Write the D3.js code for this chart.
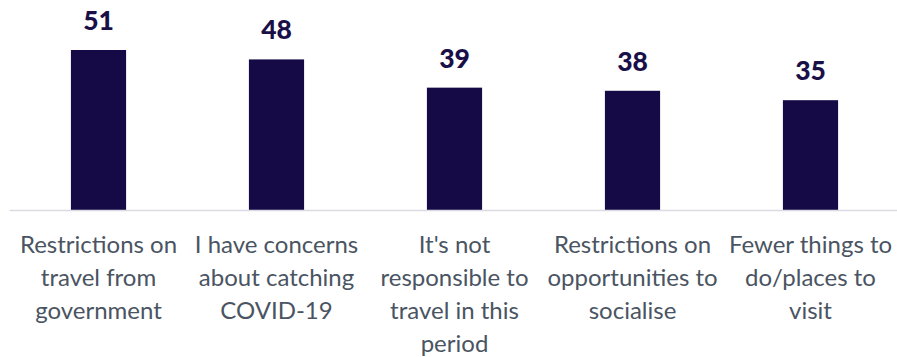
<!DOCTYPE html>
<html>
<head>
<meta charset="utf-8">
<script src="https://cdn.jsdelivr.net/npm/d3@7"></script>
<style>
  html, body { margin: 0; padding: 0; background: #ffffff; }
  svg { display: block; }
</style>
</head>
<body>
<svg id="chart" width="897" height="357"></svg>
<script>
const categories = [
  "Restrictions on\ntravel from\ngovernment",
  "I have concerns\nabout catching\nCOVID-19",
  "It's not\nresponsible to\ntravel in this\nperiod",
  "Restrictions on\nopportunities to\nsocialise",
  "Fewer things to\ndo/places to\nvisit"
];
const values = [51, 48, 39, 38, 35];

const W = 897, H = 357;
const baseY = 210;
const svg = d3.select("#chart");

const x = d3.scaleBand().domain(categories).range([9.5, 899.5]).paddingInner(0.69).paddingOuter(0.345);
const y = d3.scaleLinear().domain([0, 51]).range([baseY, 50]);

svg.append("g").selectAll("rect").data(values).join("rect")
  .attr("x", (d, i) => x(categories[i]))
  .attr("y", d => y(d))
  .attr("width", x.bandwidth())
  .attr("height", d => baseY - y(d))
  .attr("fill", "#150a45");

svg.append("line")
  .attr("x1", 9.5).attr("x2", W).attr("y1", baseY + 0.5).attr("y2", baseY + 0.5)
  .attr("stroke", "#dadbe3").attr("stroke-width", 1.5);

svg.append("g").selectAll("text").data(values).join("text")
  .attr("x", (d, i) => x(categories[i]) + x.bandwidth() / 2)
  .attr("y", d => y(d) - 20)
  .attr("text-anchor", "middle")
  .attr("font-family", "Lato, 'Open Sans', sans-serif")
  .attr("font-weight", "900")
  .attr("font-size", "26.5px")
  .attr("fill", "#1a1048")
  .text(d => d);

const axis = d3.axisBottom(x).tickSize(0).tickPadding(0);
const gx = svg.append("g").attr("transform", `translate(0,${baseY})`).call(axis);
gx.select(".domain").remove();
gx.selectAll(".tick text").each(function(d) {
  const t = d3.select(this);
  t.text(null)
    .attr("y", 0)
    .attr("dy", null)
    .attr("font-family", "Lato, 'Open Sans', sans-serif")
    .attr("font-size", "24px")
    .attr("fill", "#4a5462");
  d.split("\n").forEach((line, j) => {
    t.append("tspan").attr("x", 0).attr("y", 43 + j * 33).text(line);
  });
});
</script>
</body>
</html>
